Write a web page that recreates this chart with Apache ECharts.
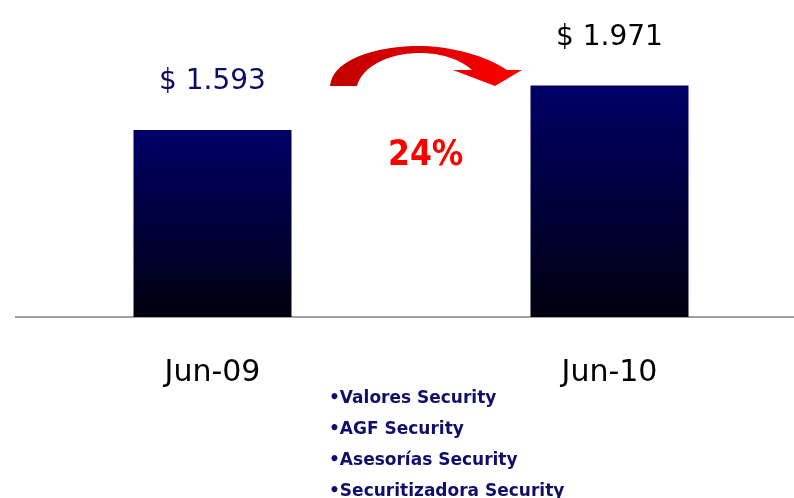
<!DOCTYPE html>
<html><head><meta charset="utf-8">
<script src="https://cdn.jsdelivr.net/npm/echarts@6/dist/echarts.min.js"></script>
<style>html,body{margin:0;padding:0;background:#fff;overflow:hidden;width:794px;height:498px}#c{width:808px;height:498px}</style>
</head><body><div id="c"></div>
<script>
const categories = ['Jun-09', 'Jun-10'];
const values = [1593, 1971];
const valueLabels = ['$ 1.593', '$ 1.971'];
const labelColors = ['#0c0c66', '#000000'];
const growthText = '24%';
const bullets = ['•Valores Security', '•AGF Security', '•Asesorías Security', '•Securitizadora Security'];

function bez(p0, p1, p2, p3, n) {
  const pts = [];
  for (let i = 0; i <= n; i++) {
    const t = i / n, u = 1 - t;
    pts.push([
      u*u*u*p0[0] + 3*u*u*t*p1[0] + 3*u*t*t*p2[0] + t*t*t*p3[0],
      u*u*u*p0[1] + 3*u*u*t*p1[1] + 3*u*t*t*p2[1] + t*t*t*p3[1]
    ]);
  }
  return pts;
}
const arrowPts = [].concat(
  bez([330,86],[333,56],[385,46],[418,46], 20),
  bez([418,46],[455,46],[490,58],[507,70], 20),
  [[522,70],[495,86],[453,70],[472,70]],
  bez([472,70],[460,59],[440,53],[420,53], 20),
  bez([420,53],[390,53],[362,66],[357,86], 20)
);

const chart = echarts.init(document.getElementById('c'), null, {renderer: 'canvas'});
const barGrad = new echarts.graphic.LinearGradient(0, 0, 0, 1, [
  {offset: 0, color: '#000068'},
  {offset: 1, color: '#00000e'}
]);
const option = {
  animation: false,
  grid: {left: 14, right: 0, top: 0, bottom: 181, containLabel: false},
  xAxis: {
    type: 'category', data: categories,
    axisLine: {show: false},
    axisTick: {show: false},
    axisLabel: {color: '#000', fontFamily: 'DejaVu Sans', fontSize: 30, margin: 41}
  },
  yAxis: {type: 'value', min: 0, max: 2700, show: false, splitLine: {show: false}},
  series: [{
    type: 'bar', barWidth: 158,
    data: values.map((v, i) => ({
      value: v,
      label: {color: labelColors[i], formatter: valueLabels[i]}
    })),
    itemStyle: {color: barGrad},
    label: {show: true, position: 'top', distance: 34, fontFamily: 'DejaVu Sans', fontSize: 28}
  }],
  graphic: [
    {type: 'line', shape: {x1: 15, y1: 317, x2: 794, y2: 317}, style: {stroke: '#808080', lineWidth: 1.5}},
    {type: 'polygon', shape: {points: arrowPts},
      style: {fill: new echarts.graphic.LinearGradient(0, 0, 1, 0, [{offset: 0, color: '#c00000'}, {offset: 1, color: '#ff0000'}])}},
    {type: 'text', left: 388, top: 138, style: {text: growthText, fill: '#ff0000', font: 'bold 35px "DejaVu Sans Condensed", "DejaVu Sans"'}}
  ].concat(bullets.map((b, i) => ({
    type: 'text', left: 329, top: 390 + i * 31,
    style: {text: b, fill: '#10106a', font: 'bold 17px "DejaVu Sans"'}
  })))
};
chart.setOption(option);
</script></body></html>
